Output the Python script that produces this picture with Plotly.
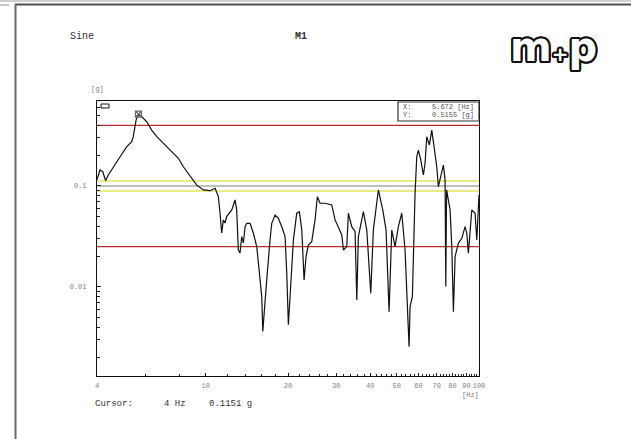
import math
import plotly.graph_objects as go

# ---------------- data ----------------
freq_hz = [4.00, 4.10, 4.20, 4.30, 4.40, 4.59, 4.86, 5.14, 5.36, 5.43,
           5.56, 5.672, 5.83, 6.08, 6.34, 6.62, 6.99, 7.40, 7.94, 8.28,
           8.76, 9.27, 9.80, 10.37, 10.82, 11.12, 11.28, 11.44, 11.60, 11.76,
           11.93, 12.45, 12.80, 12.98, 13.16, 13.35, 13.54, 13.73, 13.93, 14.13,
           14.53, 14.94, 15.37, 15.80, 16.03, 16.17, 16.34, 16.72, 17.19, 17.44,
           17.93, 18.44, 18.98, 19.51, 19.79, 20.06, 20.35, 20.93, 21.53, 22.01,
           22.46, 22.90, 23.29, 23.74, 24.43, 25.12, 25.62, 26.21, 27.34, 28.92,
           29.74, 30.58, 31.47, 31.90, 32.82, 33.27, 34.23, 35.20, 35.71, 36.19,
           37.75, 38.84, 40.17, 41.06, 42.83, 44.44, 45.70, 46.87, 47.94, 49.30,
           50.69, 52.16, 53.63, 55.47, 55.94, 57.04, 57.86, 58.35, 59.19, 60.00,
           61.22, 62.58, 63.48, 64.40, 65.83, 67.17, 68.08, 70.06, 71.01, 72.47,
           74.07, 75.14, 75.59, 76.10, 77.26, 78.38, 79.51, 80.60, 81.76, 84.06,
           86.51, 88.93, 90.22, 91.44, 94.10, 96.76, 98.15, 99.48, 100.0]

accel_g = [0.1151, 0.144, 0.1385, 0.113, 0.1285, 0.155, 0.195, 0.245, 0.275, 0.308,
           0.450, 0.5155, 0.486, 0.433, 0.358, 0.308, 0.265, 0.227, 0.188, 0.155,
           0.124, 0.102, 0.0913, 0.0898, 0.0949, 0.0784, 0.0540, 0.0342, 0.0461, 0.0430,
           0.0497, 0.0579, 0.0727, 0.0579, 0.0232, 0.0217, 0.0315, 0.0273, 0.0395, 0.0427,
           0.0427, 0.0340, 0.0251, 0.01265, 0.00802, 0.00361, 0.00553, 0.01173, 0.0292, 0.0427,
           0.0516, 0.0479, 0.0395, 0.0315, 0.01376, 0.00421, 0.00802, 0.0292, 0.0537, 0.0557,
           0.0367, 0.01173, 0.0200, 0.0260, 0.0281, 0.0461, 0.0784, 0.0674, 0.0674, 0.0649,
           0.0461, 0.0381, 0.0327, 0.0232, 0.0251, 0.0537, 0.0395, 0.0353, 0.00743, 0.0315,
           0.0557, 0.0367, 0.00866, 0.0367, 0.0913, 0.0579, 0.0367, 0.00569, 0.0367, 0.0251,
           0.0395, 0.0537, 0.0232, 0.00256, 0.00638, 0.00802, 0.0461, 0.0847, 0.195, 0.227,
           0.181, 0.1285, 0.168, 0.308, 0.255, 0.358, 0.275, 0.155, 0.0984, 0.124,
           0.161, 0.115, 0.0101, 0.0913, 0.0727, 0.0579, 0.0251, 0.00569, 0.0200, 0.0271,
           0.0303, 0.0395, 0.0340, 0.0216, 0.0579, 0.0537, 0.0292, 0.0727, 0.0815]

freq_span = [4, 100]
reference_g = 0.1
alarm_g = [0.1122, 0.0891]
abort_g = [0.398, 0.0251]

cursor_freq = 5.672
cursor_g = 0.5155

x_major = [4, 10, 20, 30, 40, 50, 60, 70, 80, 90, 100]
x_major_text = ["4", "10", "20", "30", "40", "50", "60", "70", "80", "90", "100"]
x_minor = [6, 8] + [v for v in range(12, 100, 2) if v % 10 != 0]
y_major = [0.01, 0.1]
y_major_text = ["0.01", "0.1"]
y_minor = [k * 0.001 for k in range(2, 10)] + [k * 0.01 for k in range(2, 10)] + [k * 0.1 for k in range(2, 7)]

# ---------------- geometry ----------------
W, H = 631, 439
L, R, T, B = 97, 152, 101, 63
PW, PH = W - L - R, H - T - B


def px(x):
    return (x - L) / PW


def py(y):
    return (H - B - y) / PH


MONO = "Liberation Mono"

fig = go.Figure()

# limit lines
for v in abort_g:
    fig.add_trace(go.Scatter(x=freq_span, y=[v, v], mode="lines",
                             line=dict(color="#b8282c", width=1.2), hoverinfo="skip"))
for v in alarm_g:
    fig.add_trace(go.Scatter(x=freq_span, y=[v, v], mode="lines",
                             line=dict(color="#e4e45c", width=1.6), hoverinfo="skip"))
fig.add_trace(go.Scatter(x=freq_span, y=[reference_g, reference_g], mode="lines",
                         line=dict(color="#a8a8a8", width=1.6), hoverinfo="skip"))

# measured curve
fig.add_trace(go.Scatter(x=freq_hz, y=accel_g, mode="lines",
                         line=dict(color="#111111", width=1.2)))

# cursor marker
fig.add_trace(go.Scatter(x=[cursor_freq], y=[cursor_g], mode="markers",
                         marker=dict(symbol="square-x-open", size=6,
                                     color="#666666", line=dict(width=1.2))))

axis_font = dict(family=MONO, size=7, color="#808080")

fig.update_xaxes(type="log", range=[math.log10(4), 2],
                 tickmode="array", tickvals=x_major, ticktext=x_major_text, tickangle=0,
                 ticks="inside", ticklen=3, tickwidth=1, tickcolor="#222",
                 tickfont=axis_font, ticklabelstandoff=2,
                 minor=dict(tickvals=x_minor, ticks="inside", ticklen=2,
                            tickwidth=1, tickcolor="#222", showgrid=False),
                 showline=True, linecolor="#111", linewidth=1.2, mirror=True,
                 showgrid=False, zeroline=False)
fig.update_yaxes(type="log", range=[math.log10(0.00131), math.log10(0.695)],
                 tickmode="array", tickvals=y_major, ticktext=y_major_text,
                 ticks="inside", ticklen=4, tickwidth=1, tickcolor="#222",
                 tickfont=axis_font, ticklabelstandoff=8,
                 minor=dict(tickvals=y_minor, ticks="inside", ticklen=3,
                            tickwidth=1, tickcolor="#222", showgrid=False),
                 showline=True, linecolor="#111", linewidth=1.2, mirror=True,
                 showgrid=False, zeroline=False)

shapes = [
    # page frame
    dict(type="rect", xref="paper", yref="paper", x0=px(0), x1=px(W), y0=py(2), y1=py(0),
         fillcolor="#cfcfcf", line=dict(width=0), layer="below"),
    dict(type="line", xref="paper", yref="paper", x0=px(15), x1=px(W), y0=py(4.5), y1=py(4.5),
         line=dict(color="#505050", width=2)),
    dict(type="line", xref="paper", yref="paper", x0=px(15.5), x1=px(15.5), y0=py(4), y1=py(H),
         line=dict(color="#6a6a6a", width=2)),
    dict(type="line", xref="paper", yref="paper", x0=px(0), x1=px(9), y0=py(5), y1=py(5),
         line=dict(color="#909090", width=1)),
    # legend swatch
    dict(type="rect", xref="paper", yref="paper", x0=px(101), x1=px(109), y0=py(108), y1=py(104),
         line=dict(color="#111", width=1), fillcolor="white"),
    # cursor read-out box
    dict(type="rect", xref="paper", yref="paper", x0=px(398), x1=px(479), y0=py(121), y1=py(102),
         line=dict(color="#333", width=1.2), fillcolor="white"),
]


def ann(text, x, y, size=9, color="#333", xanchor="left", family=MONO, **kw):
    return dict(text=text, x=px(x), y=py(y), xref="paper", yref="paper",
                xanchor=xanchor, yanchor="middle", showarrow=False,
                font=dict(family=family, size=size, color=color), **kw)


annotations = [
    ann("Sine", 68, 36, size=10),
    ann("<b>M1</b>", 293, 36, size=10),
    ann("[g]", 97, 89, size=7, color="#808080", xanchor="center"),
    ann("[Hz]", 470, 395, size=7, color="#808080", xanchor="center"),
    ann("Cursor:", 93, 404, size=9),
    ann("4 Hz", 162, 404, size=9),
    ann("0.1151 g", 207, 404, size=9),
    ann("X:", 401, 107, size=7, color="#555"),
    ann("5.672 [Hz]", 476, 107, size=7, color="#555", xanchor="right"),
    ann("Y:", 401, 115, size=7, color="#555"),
    ann("0.5155 [g]", 476, 115, size=7, color="#555", xanchor="right"),
]

# m+p logo: white glyphs with a dark text-shadow outline
outline = ", ".join("%.1fpx %.1fpx 0 #111" % (dx, dy) for dx, dy in
                    [(-2, 0), (2, 0), (0, -2), (0, 2), (-1.5, -1.5), (1.5, -1.5), (-1.5, 1.5), (1.5, 1.5),
                     (-2, -1), (2, 1), (-1, 2), (1, -2), (-2, 1), (2, -1), (1, 2), (-1, -2)])
annotations.append(dict(text="<b>m</b><span style='font-size:20px'><b>+</b></span><b>p</b>",
                        x=px(553), y=py(47), xref="paper", yref="paper",
                        xanchor="center", yanchor="middle", showarrow=False,
                        font=dict(family="DejaVu Sans", size=40, color="white", shadow=outline)))

fig.update_layout(width=W, height=H, margin=dict(l=L, r=R, t=T, b=B, autoexpand=False),
                  paper_bgcolor="white", plot_bgcolor="white", showlegend=False,
                  shapes=shapes, annotations=annotations)

fig.write_html("out.html", config={"displayModeBar": False},
               post_script="document.body.style.margin='0';document.body.style.overflow='hidden';")
